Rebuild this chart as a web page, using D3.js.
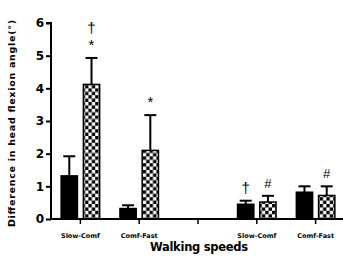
<!DOCTYPE html>
<html>
<head>
  <meta charset="UTF-8">
  <style>
    body { margin: 0; background: white; }
    svg text { font-family: "DejaVu Sans", sans-serif; font-weight: bold; }
  </style>
</head>
<body>
<svg id="chart" width="343" height="258"></svg>
<script src="https://d3js.org/d3.v7.min.js"></script>
<script>

// categories along the x axis (the middle one is an empty spacer)
let categories = ["Slow-Comf", "Comf-Fast", "", "Slow-Comf 2", "Comf-Fast 2"];
let catLabels = ["Slow-Comf", "Comf-Fast", "", "Slow-Comf", "Comf-Fast"];
let series = ["solid", "checked"];

// mean values per category for each series
let solidMeans = [1.32, 0.32, null, 0.45, 0.82];
let checkedMeans = [4.12, 2.1, null, 0.52, 0.72];
// upper error values
let solidErr = [1.92, 0.42, null, 0.56, 1.0];
let checkedErr = [4.93, 3.18, null, 0.71, 1.0];
// significance marks above bars (stacked top to bottom)
let solidMarks = [[], [], [], ["†"], []];
let checkedMarks = [["†", "*"], ["*"], [], ["#"], ["#"]];

let yTicks = [0, 1, 2, 3, 4, 5, 6];

let svg = d3.select("#chart");

let x = d3.scaleBand().domain(categories).range([51, 345]);
let sub = d3.scaleBand().domain(series).range([-20, 20]).paddingInner(0.2);
let y = d3.scaleLinear().domain([0, 6]).range([219, 23]);

// checkerboard pattern
let c = 3.4;
let pat = svg.append("defs").append("pattern")
    .attr("id", "checker")
    .attr("patternUnits", "userSpaceOnUse")
    .attr("width", 2 * c).attr("height", 2 * c);
pat.append("rect").attr("width", 2 * c).attr("height", 2 * c).attr("fill", "white");
pat.append("rect").attr("width", c).attr("height", c).attr("fill", "black");
pat.append("rect").attr("x", c).attr("y", c).attr("width", c).attr("height", c).attr("fill", "black");

let rows = [];
categories.forEach((cat, i) => {
    if (solidMeans[i] != null) rows.push({cat: cat, s: "solid", v: solidMeans[i], e: solidErr[i], marks: solidMarks[i]});
    if (checkedMeans[i] != null) rows.push({cat: cat, s: "checked", v: checkedMeans[i], e: checkedErr[i], marks: checkedMarks[i]});
});

let cx = d => x(d.cat) + x.bandwidth() / 2 + sub(d.s);
let bw = sub.bandwidth();

// error bars (upper only)
let eb = svg.append("g");
eb.selectAll("line.stem").data(rows).enter().append("line")
    .attr("x1", d => cx(d) + bw / 2).attr("x2", d => cx(d) + bw / 2)
    .attr("y1", d => y(d.v)).attr("y2", d => y(d.e))
    .attr("stroke", "black").attr("stroke-width", 2);
eb.selectAll("line.cap").data(rows).enter().append("line")
    .attr("x1", d => cx(d) + bw / 2 - 6).attr("x2", d => cx(d) + bw / 2 + 6)
    .attr("y1", d => y(d.e)).attr("y2", d => y(d.e))
    .attr("stroke", "black").attr("stroke-width", 2);

// bars
svg.append("g").selectAll("rect").data(rows).enter().append("rect")
    .attr("x", d => cx(d) + 0.75)
    .attr("y", d => y(d.v))
    .attr("width", bw - 1.5)
    .attr("height", d => y(0) - y(d.v))
    .attr("fill", d => d.s == "solid" ? "black" : "url(#checker)")
    .attr("stroke", "black").attr("stroke-width", 1.5);

// significance marks
let markG = svg.append("g");
rows.forEach(d => {
    let n = d.marks.length;
    d.marks.forEach((m, j) => {
        markG.append("text")
            .attr("x", cx(d) + bw / 2)
            .attr("y", y(d.e) - 8 - (n - 1 - j) * 17)
            .attr("text-anchor", "middle")
            .style("font-weight", "normal")
            .style("font-family", "'Liberation Sans', Arial, sans-serif")
            .attr("font-size", m == "#" ? 13 : 15)
            .text(m);
    });
});

// y axis
let yAxis = svg.append("g").attr("transform", "translate(51,0)")
    .call(d3.axisLeft(y).tickValues(yTicks).tickSize(5).tickPadding(2).tickFormat(d3.format("d")));
yAxis.select(".domain").attr("stroke-width", 2).attr("d", "M-5," + y(6) + "H0V" + (y(0) + 1));
yAxis.selectAll(".tick line").attr("stroke-width", 2);
yAxis.selectAll(".tick text").attr("font-size", 12).attr("fill", "black");

// x axis
let xAxis = svg.append("g").attr("transform", "translate(0," + y(0) + ")")
    .call(d3.axisBottom(x).tickSize(5).tickPadding(9).tickFormat((d, i) => catLabels[i]));
xAxis.select(".domain").attr("stroke-width", 2).attr("d", "M50,0H343");
xAxis.selectAll(".tick line").attr("stroke-width", 1.5);
xAxis.selectAll(".tick text").attr("font-size", 6.5).attr("fill", "black");

// axis titles
svg.append("text")
    .attr("transform", "translate(14.5,123.5) rotate(-90)")
    .attr("text-anchor", "middle")
    .attr("font-size", 9.5)
    .attr("textLength", 207)
    .text("Difference in head flexion angle(°)");

svg.append("text")
    .attr("x", 199).attr("y", 251)
    .attr("text-anchor", "middle")
    .attr("font-size", 11.5)
    .attr("textLength", 98)
    .text("Walking speeds");

</script>
</body>
</html>
